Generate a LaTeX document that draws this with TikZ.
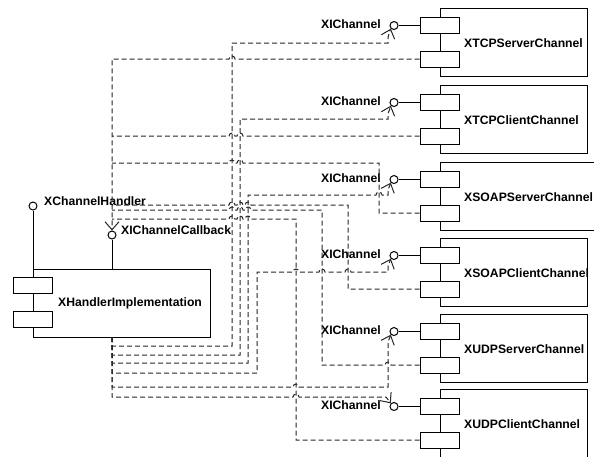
\documentclass[tikz,border=0pt]{standalone}
\usepackage{fontspec}
\setmainfont{Liberation Sans}
\usetikzlibrary{arrows.meta}
\begin{document}
\begin{tikzpicture}[x=1pt,y=-1pt,
  lbl/.style={inner sep=0pt, font=\fontsize{12.2}{14}\selectfont\bfseries, text height=8.8pt, text depth=0pt},
  bigbox/.style={draw=black, line width=1pt, fill=white, minimum height=68pt, anchor=north west, inner sep=0pt},
  port/.style={draw=black, line width=1pt, fill=white, minimum width=39pt, minimum height=16pt, inner sep=0pt},
  lolly/.style={circle, draw=black, line width=1pt, fill=white, minimum size=8pt, inner sep=0pt},
  stick/.style={draw=black, line width=1pt},
  dep/.style={draw=black!85, line width=1pt, dash pattern=on 5pt off 3pt},
  arr/.style={-{Straight Barb[length=8pt,width=14pt]}},
]
\useasboundingbox (0,0) rectangle (594,456);

% channel components
\foreach \i/\t/\name/\w in {1/8/XTCPServerChannel/147, 2/85/XTCPClientChannel/147, 3/162/XSOAPServerChannel/180, 4/238/XSOAPClientChannel/147, 5/314/XUDPServerChannel/147, 6/389/XUDPClientChannel/147} {
  \node[bigbox, minimum width=\w pt] (c\i) at (440,\t) {};
  \node[lbl, anchor=west] (ct\i) at (464,\t+35) {\name};
  \node[lolly] (i\i) at (394,\t+17.5) {};
  \coordinate (pu\i) at (420,\t+17.5);
  \draw[stick] (i\i) -- (pu\i);
  \node[port] (cu\i) at (439.5,\t+17.5) {};
  \node[port] (cl\i) at (439.5,\t+51) {};
  \node[lbl, anchor=east] (l\i) at (381,\t+16) {XIChannel};
}

% handler implementation
\node[bigbox, minimum width=177pt] (impl) at (33,269) {};
\node[port] (ipu) at (32.5,285) {};
\node[port] (ipl) at (32.5,319.5) {};
\node[lbl, anchor=west] (implt) at (58,302) {XHandlerImplementation};
\node[lolly] (hnd) at (33,206) {};
\draw[stick] (hnd) -- (hnd |- impl.north);
\node[lbl, anchor=west] (hndt) at (44,201) {XChannelHandler};
\node[lolly] (cb) at (112,235) {};
\draw[stick] (cb) -- (cb |- impl.north);
\node[lbl, anchor=west] (cbt) at (121,230) {XIChannelCallback};
\coordinate (ib) at (112,337);

% dependencies from the implementation to each XIChannel
\draw[dep,arr] (ib) -- (112,346) -- (232,346) -- (232,43) -- (388,43) -- (388,37) -- (i1.south west);
\draw[dep,arr] (ib) -- (112,355) -- (240,355) -- (240,119) -- (388,119) -- (388,114) -- (i2.south west);
\draw[dep,arr] (ib) -- (112,363) -- (248,363) -- (248,195) -- (376,195) arc[start angle=180,end angle=0,radius=3pt] -- (388,195) -- (388,190) -- (i3.south west);
\draw[dep,arr] (ib) -- (112,373) -- (257,373) -- (257,272) -- (293,272) arc[start angle=180,end angle=0,radius=3pt] -- (319,272) arc[start angle=180,end angle=0,radius=3pt] -- (345,272) arc[start angle=180,end angle=0,radius=3pt] -- (388,272) -- (388,266) -- (i4.south west);
\draw[dep,arr] (ib) -- (112,387) -- (293,387) arc[start angle=180,end angle=0,radius=3pt] -- (388,387) -- (388,342) -- (i5.south west);
\draw[dep,arr] (ib) -- (112,397) -- (293,397) arc[start angle=180,end angle=0,radius=3pt] -- (386,397) -- (i6.north west);

% dependencies from each channel to XIChannelCallback
\draw[dep,arr] (cl1.west) -- (235,59) arc[start angle=0,end angle=180,radius=3pt] -- (112,59) -- (cb.north);
\draw[dep] (cl2.west) -- (243,136) arc[start angle=0,end angle=180,radius=3pt] -- (235,136) arc[start angle=0,end angle=180,radius=3pt] -- (112,136);
\draw[dep] (cl3.west) -- (379,213) -- (379,163) -- (243,163) arc[start angle=0,end angle=180,radius=3pt] -- (235,163) arc[start angle=0,end angle=180,radius=3pt] -- (112,163);
\draw[dep] (cl4.west) -- (348,289) -- (348,205) -- (251,205) arc[start angle=0,end angle=180,radius=3pt] -- (243,205) arc[start angle=0,end angle=180,radius=3pt] -- (235,205) arc[start angle=0,end angle=180,radius=3pt] -- (112,205);
\draw[dep] (cl5.west) -- (391,365) arc[start angle=0,end angle=180,radius=3pt] -- (322,365) -- (322,210) -- (251,210) arc[start angle=0,end angle=180,radius=3pt] -- (243,210) arc[start angle=0,end angle=180,radius=3pt] -- (235,210) arc[start angle=0,end angle=180,radius=3pt] -- (112,210);
\draw[dep] (cl6.west) -- (296,440) -- (296,219) -- (251,219) arc[start angle=0,end angle=180,radius=3pt] -- (243,219) arc[start angle=0,end angle=180,radius=3pt] -- (235,219) arc[start angle=0,end angle=180,radius=3pt] -- (112,219);
\end{tikzpicture}
\end{document}
